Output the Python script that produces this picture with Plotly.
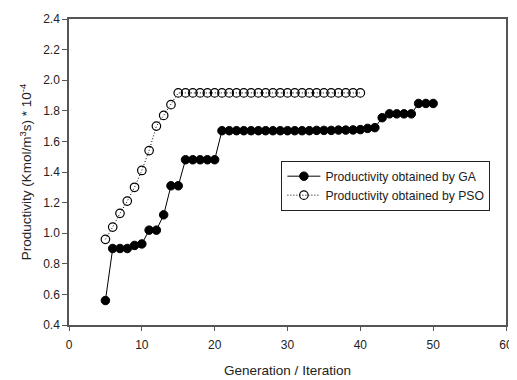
import plotly.graph_objects as go

ga_x = list(range(5, 51))
ga_y = [0.56, 0.90, 0.90, 0.90, 0.92, 0.93, 1.02, 1.02, 1.12, 1.31, 1.31,
        1.48, 1.48, 1.48, 1.48, 1.48,
        1.67, 1.67, 1.67, 1.67, 1.67, 1.67, 1.67, 1.67, 1.67, 1.67, 1.67, 1.67, 1.67,
        1.672, 1.672, 1.672, 1.674, 1.674, 1.675, 1.677,
        1.685, 1.69, 1.755, 1.78, 1.78, 1.78, 1.78, 1.848, 1.848, 1.848]

pso_x = list(range(5, 41))
pso_y = [0.96, 1.04, 1.13, 1.21, 1.30, 1.41, 1.54, 1.70, 1.77, 1.84] + [1.917] * 26

x_ticks = [0, 10, 20, 30, 40, 50, 60]
y_ticks = [0.4, 0.6, 0.8, 1.0, 1.2, 1.4, 1.6, 1.8, 2.0, 2.2, 2.4]

FONT = "Liberation Sans, Arial, sans-serif"

fig = go.Figure()
fig.add_trace(go.Scatter(
    x=ga_x, y=ga_y, mode="lines+markers", name="Productivity obtained by GA",
    line=dict(color="black", width=1),
    marker=dict(symbol="circle", size=8.5, color="black", line=dict(color="black", width=1)),
))
fig.add_trace(go.Scatter(
    x=pso_x, y=pso_y, mode="lines+markers", name="Productivity obtained by PSO",
    line=dict(color="black", width=1, dash="1px,2px"),
    marker=dict(symbol="circle-open", size=8.5, color="black", line=dict(color="black", width=1.2)),
))

fig.update_layout(
    width=509, height=372,
    margin=dict(l=61, r=4, t=6, b=54),
    paper_bgcolor="white", plot_bgcolor="white",
    font=dict(family=FONT, size=12, color="#222"),
    showlegend=True,
    legend=dict(
        x=0.486, y=0.537, xanchor="left", yanchor="top",
        bordercolor="#222", borderwidth=1, bgcolor="white",
        font=dict(size=12.2, family=FONT, color="#222"),
        tracegroupgap=0, itemwidth=33,
    ),
    xaxis=dict(
        range=[0, 60], tickvals=x_ticks, ticktext=[str(v) for v in x_ticks],
        showgrid=False, zeroline=False,
        showline=True, mirror=True, linecolor="#555", linewidth=1.5,
        ticks="outside", ticklen=4, tickcolor="#555", tickwidth=1.2,
        ticklabeloverflow="allow", ticklabelstandoff=4,
        tickfont=dict(size=12, family=FONT, color="#222"),
        title=dict(text="Generation / Iteration", font=dict(size=13.5, family=FONT, color="#222"), standoff=14),
    ),
    yaxis=dict(
        range=[0.4, 2.4], tickvals=y_ticks, ticktext=[f"{v:.1f}" for v in y_ticks],
        showgrid=False, zeroline=False,
        showline=True, mirror=True, linecolor="#555", linewidth=1.5,
        ticks="outside", ticklen=5, tickcolor="#555", tickwidth=1.2,
        ticklabeloverflow="allow",
        tickfont=dict(size=12, family=FONT, color="#222"),
        title=dict(text="Productivity (Kmol/m<sup>3</sup>s) * 10<sup>-4</sup>",
                   font=dict(size=13.5, family=FONT, color="#222"), standoff=8),
    ),
)

fig.write_html("out.html")
